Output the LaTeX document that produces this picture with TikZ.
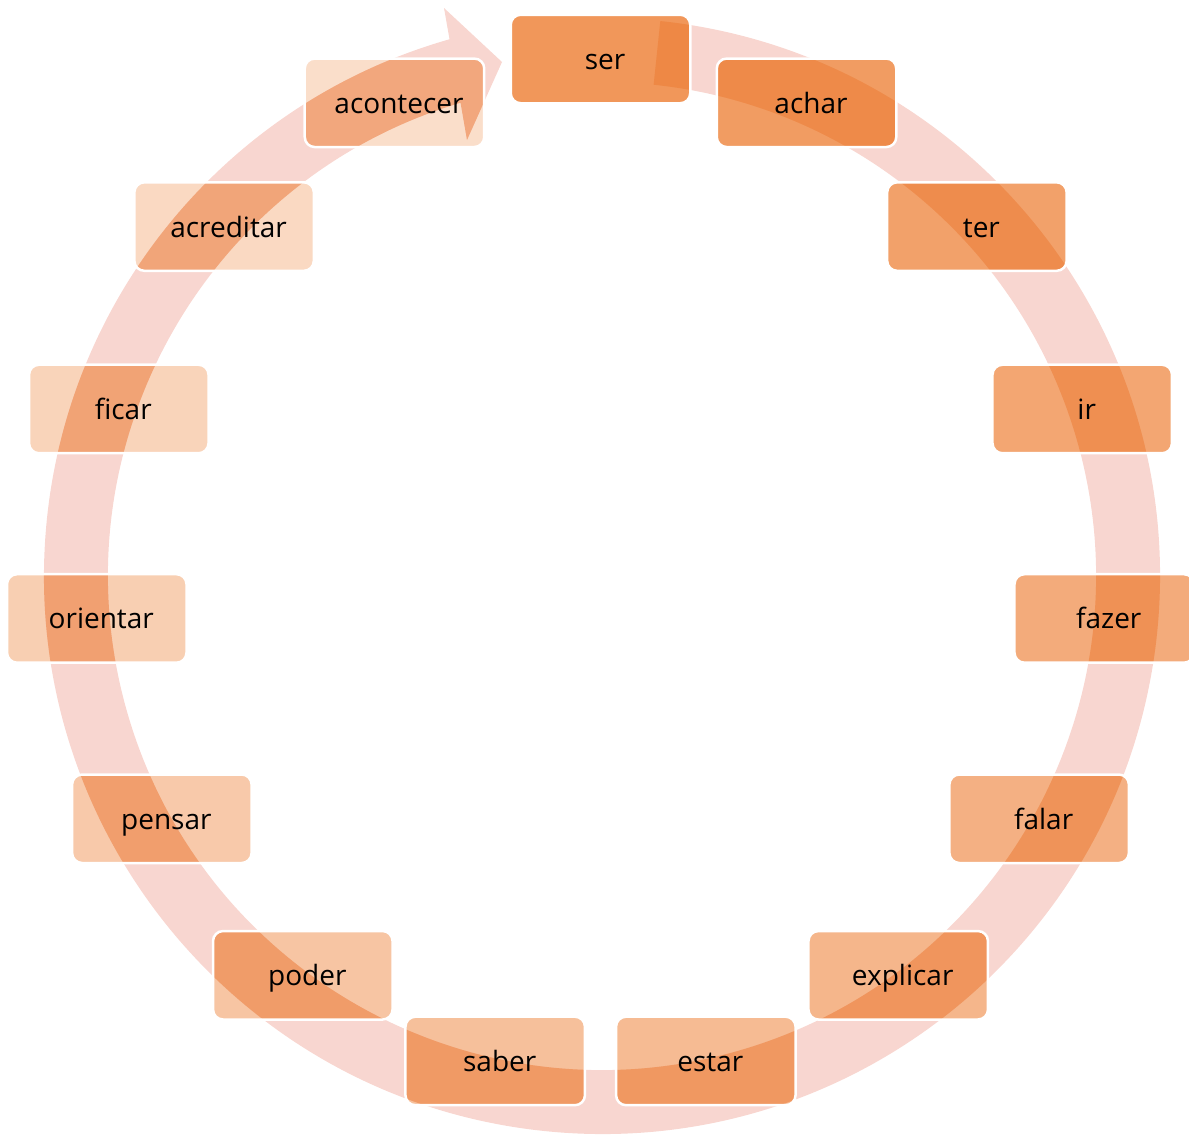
\documentclass[tikz,border=0pt]{standalone}
\usepackage{fontspec}
\setmainfont{Open Sans}
\usetikzlibrary{calc}
\definecolor{acc}{HTML}{ED7D31}
\definecolor{ringc}{HTML}{F8D6D0}
\begin{document}
\begin{tikzpicture}[x=1pt,y=1pt,
  vbox/.style={rounded corners=10pt, minimum width=179.5pt, minimum height=88.5pt,
    draw=white, line width=2.5pt, fill=acc, text=black, text opacity=1,
    font=\fontsize{28}{30}\selectfont, inner sep=0pt, text height=21pt, text depth=0pt},
  ringfill/.style={fill=ringc},
  ringover/.style={fill=acc, opacity=0.35}]
\useasboundingbox (0,0) rectangle (1189,-1135);
\def\ringpath{([shift={(602,-576)}]84:558pt) arc[start angle=84, end angle=-254.14, radius=558pt] -- (444,-8) -- (502,-62) -- (467,-140) -- ([shift={(602,-576)}]-253.36:494pt) arc[start angle=-253.36, end angle=84, radius=494pt] -- cycle}
\fill[ringfill] \ringpath;
\foreach \i/\t in {0/ser,1/achar,2/ter,3/ir,4/fazer,5/falar,6/explicar,7/estar,8/saber,9/poder,10/pensar,11/orientar,12/ficar,13/acreditar,14/acontecer}{
  \pgfmathsetmacro\ang{90-24*\i}
  \pgfmathsetmacro\op{0.8-0.039*\i}
  \coordinate (p\i) at ([shift={(600.5,-565.5)}]\ang:506.5pt);
  \begin{scope}
    \clip[rounded corners=10pt] ($(p\i)+(-90,-45)$) rectangle ($(p\i)+(90,45)$);
    \fill[ringover] \ringpath;
  \end{scope}
  \node[vbox, fill opacity=\op] (n\i) at (p\i) {\hspace*{9pt}\t};
}
\end{tikzpicture}
\end{document}
